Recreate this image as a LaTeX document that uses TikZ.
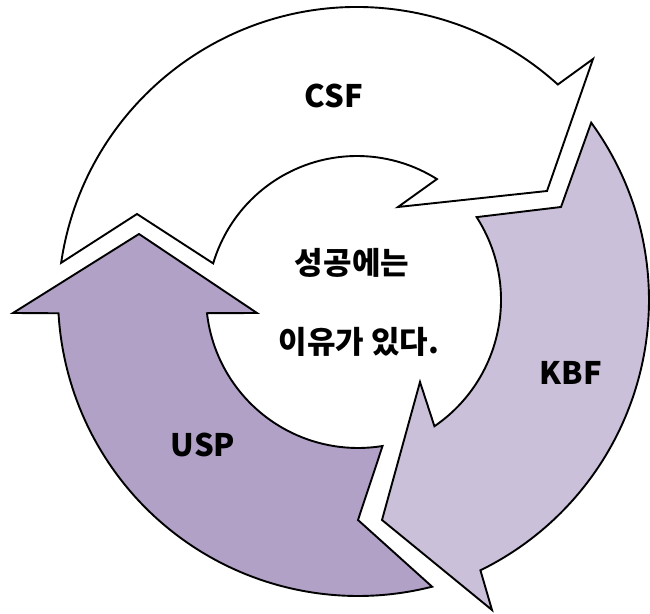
\documentclass[tikz,border=0pt]{standalone}
\usepackage{fontspec}
\newfontfamily\kr{Noto Sans CJK KR}
\usetikzlibrary{calc}
\definecolor{kbfcol}{RGB}{203,192,218}
\definecolor{uspcol}{RGB}{177,161,199}
\begin{document}
\begin{tikzpicture}[x=1pt,y=1pt,
  arrowshape/.style={draw=black,line width=1.9pt,line join=miter},
  lbl/.style={font=\kr\bfseries\fontsize{31}{37}\selectfont,inner sep=0pt,anchor=base}]
\useasboundingbox (0,0) rectangle (650,613);
\coordinate (cC) at (357,307);
\coordinate (cK) at (348,313);
\coordinate (cU) at (358,317);
% CSF arrow (white)
\path[arrowshape,fill=white] ($(cC)+(171.7:299)$) arc[start angle=171.7,end angle=47.8,radius=299]
  -- (593,554) -- (547,422) -- (398,406)
  -- ($(cC)+(57.8:150)$) arc[start angle=57.8,end angle=163.5,radius=150]
  -- (137,399) -- cycle;
% KBF arrow
\path[arrowshape,fill=kbfcol] ($(cK)+(36.1:301)$) arc[start angle=36.1,end angle=-63.9,radius=301]
  -- (492,3) -- (382,93) -- (420,231)
  -- ($(cK)+(-55.6:153)$) arc[start angle=-55.6,end angle=32.8,radius=153]
  -- (561,406) -- cycle;
% USP arrow
\path[arrowshape,fill=uspcol] ($(cU)+(-75.7:300)$) arc[start angle=-75.7,end angle=-176.7,radius=300]
  -- (13,300) -- (139,379) -- (257,300)
  -- ($(cU)+(-173.5:152)$) arc[start angle=-173.5,end angle=-80.7,radius=152]
  -- (358,93) -- cycle;
% labels
\node[lbl] (csf) at (334,505.5) {CSF};
\node[lbl] (kbf) at (571,228) {KBF};
\node[lbl] (usp) at (203,156.5) {USP};
\node[lbl] (t1) at (352,338) {성공에는};
\node[lbl] (t2) at (359,259) {이유가 있다.};
\end{tikzpicture}
\end{document}
